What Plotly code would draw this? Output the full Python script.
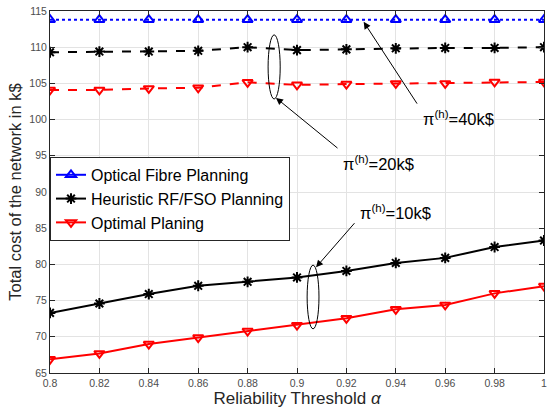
import plotly.graph_objects as go

alpha = [0.8, 0.82, 0.84, 0.86, 0.88, 0.9, 0.92, 0.94, 0.96, 0.98, 1.0]

fibre = [113.8] * 11
heur_40 = [109.3, 109.4, 109.4, 109.5, 110.0, 109.6, 109.7, 109.85, 109.9, 109.9, 110.0]
opt_20 = [104.1, 104.1, 104.3, 104.4, 105.15, 104.8, 104.9, 105.0, 105.0, 105.2, 105.2]
heur_10 = [73.3, 74.6, 75.9, 77.05, 77.6, 78.2, 79.1, 80.2, 80.9, 82.4, 83.3]
opt_10 = [66.9, 67.7, 69.0, 69.9, 70.8, 71.6, 72.55, 73.8, 74.4, 76.0, 77.0]

x_ticks = [0.8, 0.82, 0.84, 0.86, 0.88, 0.9, 0.92, 0.94, 0.96, 0.98, 1.0]
x_tick_labels = ["0.8", "0.82", "0.84", "0.86", "0.88", "0.9", "0.92", "0.94", "0.96", "0.98", "1"]
y_ticks = [65, 70, 75, 80, 85, 90, 95, 100, 105, 110, 115]

legend_names = ["Optical Fibre Planning", "Heuristic RF/FSO Planning", "Optimal Planing"]
labels = ["π<sup>(h)</sup>=40k$", "π<sup>(h)</sup>=20k$", "π<sup>(h)</sup>=10k$"]

FONT = "Liberation Sans, Arial, sans-serif"
BLUE, BLACK, RED = "#0000ff", "#000000", "#ff0000"

blue_mk = dict(symbol="triangle-up-open", color=BLUE, size=9, line=dict(width=2, color=BLUE))
black_mk = dict(symbol="asterisk-open", color=BLACK, size=9, line=dict(width=2, color=BLACK))
red_mk = dict(symbol="triangle-down-open", color=RED, size=9, line=dict(width=2, color=RED))

fig = go.Figure()
fig.add_trace(go.Scatter(x=alpha, y=fibre, mode="lines+markers", showlegend=False,
                         line=dict(color=BLUE, width=2, dash="dot"), marker=blue_mk))
fig.add_trace(go.Scatter(x=alpha, y=heur_40, mode="lines+markers", showlegend=False,
                         line=dict(color=BLACK, width=2, dash="dash"), marker=black_mk))
fig.add_trace(go.Scatter(x=alpha, y=opt_20, mode="lines+markers", showlegend=False,
                         line=dict(color=RED, width=2, dash="dash"), marker=red_mk))
fig.add_trace(go.Scatter(x=alpha, y=heur_10, mode="lines+markers", showlegend=False,
                         line=dict(color=BLACK, width=2), marker=black_mk))
fig.add_trace(go.Scatter(x=alpha, y=opt_10, mode="lines+markers", showlegend=False,
                         line=dict(color=RED, width=2), marker=red_mk))

# legend entries (solid lines, as in the reference legend)
for name, col, mk in zip(legend_names, [BLUE, BLACK, RED], [blue_mk, black_mk, red_mk]):
    fig.add_trace(go.Scatter(x=[None], y=[None], mode="lines+markers", name=name,
                             line=dict(color=col, width=2), marker=mk))

# ellipses
fig.add_shape(type="circle", xref="x", yref="y", x0=0.8883, x1=0.8932, y0=102.85, y1=111.7,
              line=dict(color="black", width=1))
fig.add_shape(type="circle", xref="x", yref="y", x0=0.9041, x1=0.9089, y0=71.1, y1=79.9,
              line=dict(color="black", width=1))

arrows = [
    (0.927, 113.5, 0.949, 102.0),
    (0.8915, 103.0, 0.917, 95.9),
    (0.9077, 79.6, 0.9238, 85.9),
]
for hx, hy, tx, ty in arrows:
    fig.add_annotation(x=hx, y=hy, ax=tx, ay=ty, xref="x", yref="y", axref="x", ayref="y",
                       text="", showarrow=True, arrowhead=2, arrowsize=1.4, arrowwidth=1,
                       arrowcolor="black")

text_pos = [(0.9653, 100.2), (0.933, 94.0), (0.940, 87.2)]
for (tx, ty), lab in zip(text_pos, labels):
    fig.add_annotation(x=tx, y=ty, xref="x", yref="y", text=lab, showarrow=False,
                       font=dict(family=FONT, size=16.5, color="black"))

axis_common = dict(showline=True, linecolor="#262626", linewidth=1, mirror="ticks",
                   ticks="inside", ticklen=5, tickcolor="#262626",
                   showgrid=True, gridcolor="#e3e3e3", gridwidth=1, zeroline=False,
                   tickfont=dict(family=FONT, size=10.5, color="#4d4d4d"))

fig.update_layout(
    width=554, height=410,
    margin=dict(l=50, r=10, t=11, b=37, autoexpand=False),
    plot_bgcolor="white", paper_bgcolor="white",
    xaxis=dict(range=[0.8, 1.0], tickvals=x_ticks, ticktext=x_tick_labels,
               title=dict(text="Reliability Threshold <i>α</i>", standoff=1,
                          font=dict(family=FONT, size=17, color="#262626")),
               automargin=False, **axis_common),
    yaxis=dict(range=[65, 115], tickvals=y_ticks,
               title=dict(text="Total cost of the network in k$", standoff=3,
                          font=dict(family=FONT, size=16.5, color="#262626")),
               automargin=False, **axis_common),
    legend=dict(x=0.0, y=0.597, xanchor="left", yanchor="top", bgcolor="white",
                bordercolor="#262626", borderwidth=1, tracegroupgap=0, itemwidth=30,
                font=dict(family=FONT, size=16, color="black")),
    showlegend=True,
)

fig.write_html("out.html", config={"displayModeBar": False},
               post_script="document.body.style.margin='0';document.body.style.overflow='hidden';")
